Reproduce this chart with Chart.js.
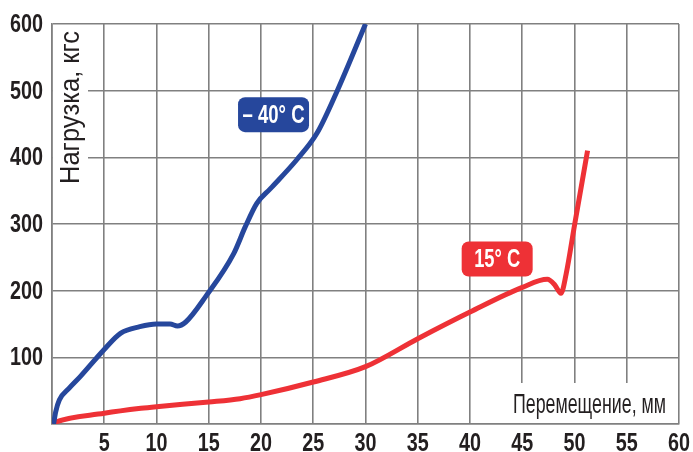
<!DOCTYPE html>
<html>
<head>
<meta charset="utf-8">
<script src="https://cdn.jsdelivr.net/npm/chart.js@4.4.1/dist/chart.umd.min.js"></script>
<style>
  body { margin: 0; background: #fff; }
</style>
</head>
<body>
<canvas id="loadChart" width="693" height="452"></canvas>
<script>
// displacement, mm / load, kgf
const xTicks = [0, 5, 10, 15, 20, 25, 30, 35, 40, 45, 50, 55, 60];
const yTicks = [0, 100, 200, 300, 400, 500, 600];

const coldX = [0.15, 0.35, 0.7, 1.6, 2.7, 4.95, 6.55, 8.4, 10, 11.3, 12, 12.8, 14.7, 17.4, 18.5, 19.6, 20.9, 23.4, 25.35, 27.3, 30];
const coldY = [0, 18, 36, 53, 71, 111, 136, 146, 150, 150, 147, 153, 191, 256, 296, 331, 353, 396, 436, 500, 600];

const warmX = [0, 0.2, 5, 8.5, 10, 15, 18, 20, 25, 30, 35, 40, 45, 47.4, 48.1, 48.7, 49.2, 50, 51.25];
const warmY = [0, 2, 16, 23.5, 26, 33, 38, 44, 63, 86, 128, 168, 205, 217, 209, 196, 225, 298, 410];

const coldLabel = "– 40° C";
const warmLabel = "15° C";
const xTitle = "Перемещение, мм";
const yTitle = "Нагрузка, кгс";

const BLUE = "#26479c";
const RED = "#ee3136";
const GRID = "#808080";
const INK = "#231f20";
const FONT = '"Liberation Sans", Arial, sans-serif';

const toPoints = (xs, ys) => xs.map((x, i) => ({ x, y: ys[i] }));
const tickText = v => (v === 0 ? "" : String(v));

function roundBox(ctx, x, y, w, h, r) {
  ctx.beginPath();
  ctx.moveTo(x + r, y);
  ctx.arcTo(x + w, y, x + w, y + h, r);
  ctx.arcTo(x + w, y + h, x, y + h, r);
  ctx.arcTo(x, y + h, x, y, r);
  ctx.arcTo(x, y, x + w, y, r);
  ctx.closePath();
  ctx.fill();
}

// condensed text: squeeze to about 11px per digit like the original
const decor = {
  id: "decor",
  beforeDatasetsDraw(chart) {
    const { ctx, chartArea: a, scales } = chart;
    ctx.save();
    // white patches behind the axis titles
    ctx.fillStyle = "#fff";
    ctx.fillRect(a.left + 1, a.top + 1, 35, 166);
    ctx.fillRect(a.right - 169, a.bottom - 41, 168, 40);

    ctx.fillStyle = INK;
    ctx.font = "27px " + FONT;
    ctx.textAlign = "left";
    ctx.textBaseline = "alphabetic";
    ctx.fillText(xTitle, a.right - 166, a.bottom - 11, 153);

    ctx.save();
    ctx.translate(a.left + 27, a.top + 160);
    ctx.rotate(-Math.PI / 2);
    ctx.fillText(yTitle, 0, 0, 153);
    ctx.restore();

    // tick labels
    ctx.font = "bold 25px " + FONT;
    ctx.textAlign = "right";
    ctx.textBaseline = "middle";
    scales.y.ticks.forEach(t => {
      const s = tickText(t.value);
      if (s) ctx.fillText(s, a.left - 9, scales.y.getPixelForValue(t.value) + 1, 11 * s.length);
    });
    ctx.textAlign = "center";
    ctx.textBaseline = "alphabetic";
    scales.x.ticks.forEach(t => {
      const s = tickText(t.value);
      if (s) ctx.fillText(s, scales.x.getPixelForValue(t.value), a.bottom + 27, 11 * s.length);
    });
    ctx.restore();
  },
  afterDatasetsDraw(chart) {
    const { ctx, scales } = chart;
    const tags = [
      { text: coldLabel, x: 21.2, y: 464, color: BLUE, tw: 62 },
      { text: warmLabel, x: 42.6, y: 247.5, color: RED, tw: 46 }
    ];
    ctx.save();
    tags.forEach(t => {
      const cx = scales.x.getPixelForValue(t.x);
      const cy = scales.y.getPixelForValue(t.y);
      ctx.fillStyle = t.color;
      roundBox(ctx, cx - 35.5, cy - 17.5, 71, 35, 7);
      ctx.fillStyle = "#fff";
      ctx.font = "bold 25px " + FONT;
      ctx.textAlign = "center";
      ctx.textBaseline = "middle";
      ctx.fillText(t.text, cx, cy + 1, t.tw);
    });
    ctx.restore();
  }
};

new Chart(document.getElementById("loadChart"), {
  type: "scatter",
  data: {
    datasets: [
      {
        label: coldLabel,
        data: toPoints(coldX, coldY),
        showLine: true,
        borderColor: BLUE,
        borderWidth: 5,
        pointRadius: 0,
        cubicInterpolationMode: "monotone"
      },
      {
        label: warmLabel,
        data: toPoints(warmX, warmY),
        showLine: true,
        borderColor: RED,
        borderWidth: 5,
        pointRadius: 0,
        cubicInterpolationMode: "monotone"
      }
    ]
  },
  options: {
    responsive: false,
    animation: false,
    layout: { padding: { top: 24, right: 14, left: 0, bottom: 0 } },
    plugins: { legend: { display: false }, tooltip: { enabled: false } },
    scales: {
      x: {
        min: 0,
        max: 60,
        afterBuildTicks: s => { s.ticks = xTicks.map(v => ({ value: v })); },
        afterFit: s => { s.height = 28; },
        grid: { color: GRID, lineWidth: 1.6, drawTicks: false },
        border: { color: GRID, width: 1.6 },
        ticks: { display: false }
      },
      y: {
        min: 0,
        max: 600,
        afterBuildTicks: s => { s.ticks = yTicks.map(v => ({ value: v })); },
        afterFit: s => { s.width = 52; },
        grid: { color: GRID, lineWidth: 1.6, drawTicks: false },
        border: { color: GRID, width: 1.6 },
        ticks: { display: false }
      }
    }
  },
  plugins: [decor]
});
</script>
</body>
</html>
